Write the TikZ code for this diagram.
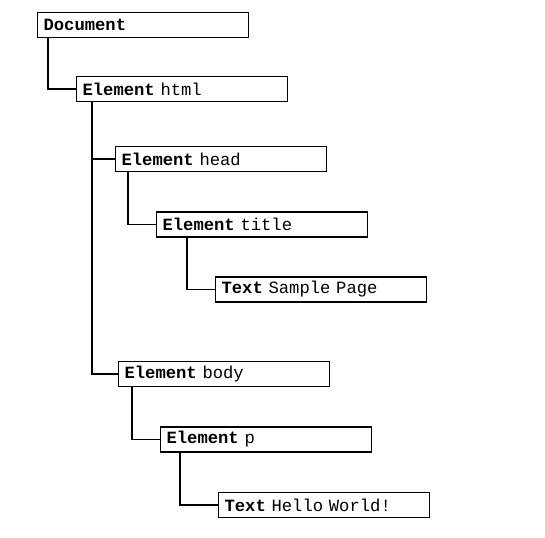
\documentclass[tikz,border=0pt]{standalone}
\usepackage{fontspec}
\setmainfont{Liberation Mono}
\begin{document}
\begin{tikzpicture}[x=1pt,y=-1pt,
  treebox/.style={draw, line width=1.1pt, anchor=west, minimum height=25pt,
    text width=199pt, inner xsep=6pt, inner ysep=0pt, align=left,
    font=\fontsize{17.2}{18}\selectfont},
  link/.style={line width=1.6pt}]
\useasboundingbox (0,0) rectangle (545,537);
\node[treebox] (doc)   at (37,25)    {\textbf{Document}};
\node[treebox] (html)  at (76,89)    {\textbf{Element} html};
\node[treebox] (head)  at (115,159)  {\textbf{Element} head};
\node[treebox] (title) at (156,224.5){\textbf{Element} title};
\node[treebox] (txt1)  at (215,289.5){\textbf{Text} Sample Page};
\node[treebox] (body)  at (118,374)  {\textbf{Element} body};
\node[treebox] (p)     at (160,439.5){\textbf{Element} p};
\node[treebox] (txt2)  at (218,505)  {\textbf{Text} Hello World!};
\coordinate (trunk) at ([xshift=16pt]html.south west);
\draw[link] ([xshift=11pt]doc.south west) |- (html.west);
\draw[link] (trunk) |- (body.west);
\draw[link] (head.west) -- (head.west -| trunk);
\draw[link] ([xshift=13pt]head.south west) |- (title.west);
\draw[link] ([xshift=31pt]title.south west) |- (txt1.west);
\draw[link] ([xshift=14pt]body.south west) |- (p.west);
\draw[link] ([xshift=20pt]p.south west) |- (txt2.west);
\end{tikzpicture}
\end{document}
